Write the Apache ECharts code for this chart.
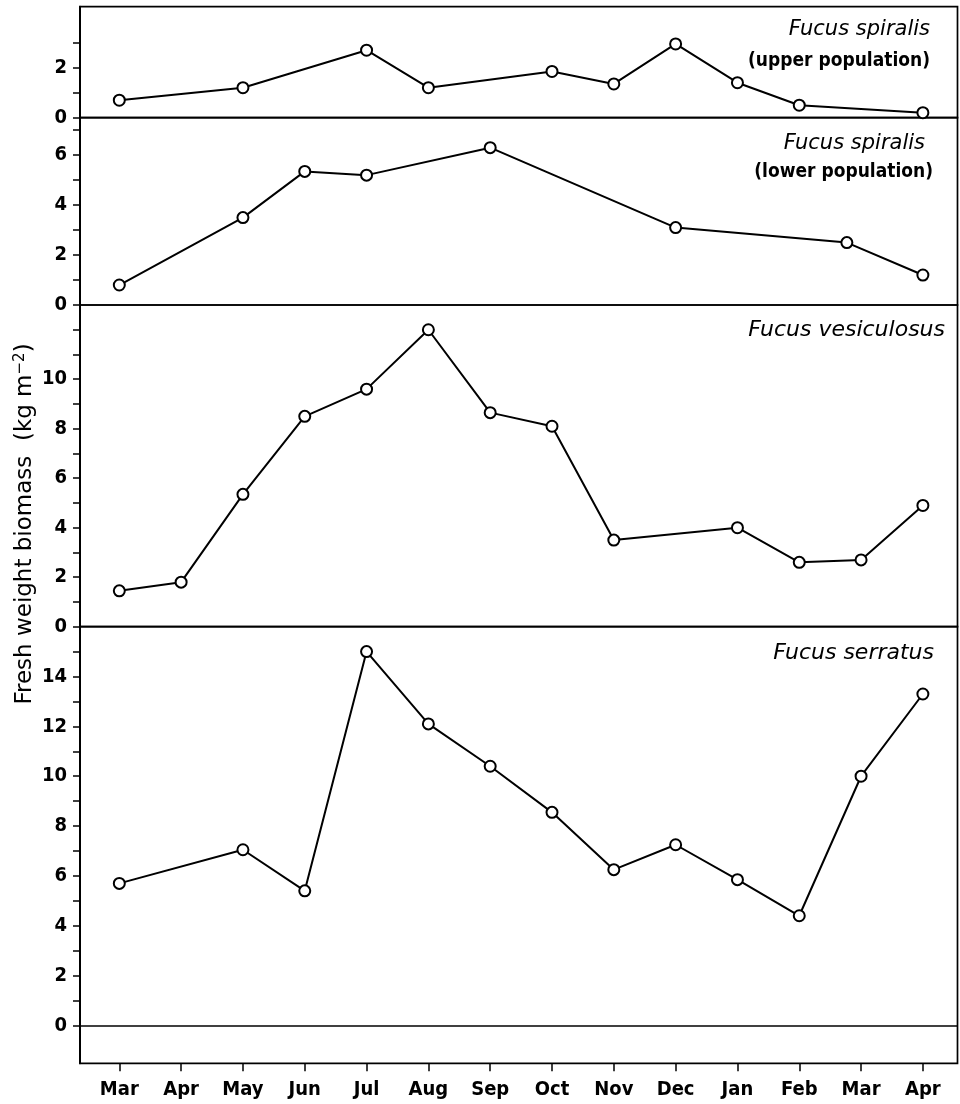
<!DOCTYPE html>
<html>
<head>
<meta charset="utf-8">
<script src="https://cdn.jsdelivr.net/npm/echarts@6/dist/echarts.min.js"></script>
<style>
html,body{margin:0;padding:0;background:#fff;}
#chart{width:960px;height:1104px;}
</style>
</head>
<body>
<div id="chart"></div>
<script>
// ---- data ----
var monthLabels = ['Mar','Apr','May','Jun','Jul','Aug','Sep','Oct','Nov','Dec','Jan','Feb','Mar','Apr'];

var upperX = [0, 2, 4, 5, 7, 8, 9, 10, 11, 13];
var upperY = [0.7, 1.2, 2.7, 1.2, 1.85, 1.35, 2.95, 1.4, 0.5, 0.2];

var lowerX = [0, 2, 3, 4, 6, 9, 11.77, 13];
var lowerY = [0.8, 3.5, 5.35, 5.2, 6.3, 3.1, 2.5, 1.2];

var vesX = [0, 1, 2, 3, 4, 5, 6, 7, 8, 10, 11, 12, 13];
var vesY = [1.45, 1.8, 5.35, 8.5, 9.6, 12.0, 8.65, 8.1, 3.5, 4.0, 2.6, 2.7, 4.9];

var serX = [0, 2, 3, 4, 5, 6, 7, 8, 9, 10, 11, 12, 13];
var serY = [5.7, 7.05, 5.4, 15.0, 12.1, 10.4, 8.55, 6.25, 7.25, 5.85, 4.4, 10.0, 13.3];

var upperTicks = [0, 1, 2, 3];
var upperLabels = [0, 2];
var lowerTicks = [0, 1, 2, 3, 4, 5, 6, 7];
var lowerLabels = [0, 2, 4, 6];
var vesTicks = [0, 1, 2, 3, 4, 5, 6, 7, 8, 9, 10, 11, 12];
var vesLabels = [0, 2, 4, 6, 8, 10];
var serTicks = [0, 1, 2, 3, 4, 5, 6, 7, 8, 9, 10, 11, 12, 13, 14, 15];
var serLabels = [0, 2, 4, 6, 8, 10, 12, 14];
var monthTicks = [0, 1, 2, 3, 4, 5, 6, 7, 8, 9, 10, 11, 12, 13];

// ---- build ----
function pairs(xs, ys) { return xs.map(function (x, i) { return [x, ys[i]]; }); }

var labelFont = '"Liberation Sans Narrow", "DejaVu Sans Condensed", sans-serif';
var italicFont = '"DejaVu Sans", sans-serif';

var panels = [
  { top: 6.7,   height: 111,   min: 0,     max: 4.44, ticks: upperTicks, labels: upperLabels, data: pairs(upperX, upperY) },
  { top: 117.7, height: 187.3, min: 0,     max: 7.5,  ticks: lowerTicks, labels: lowerLabels, data: pairs(lowerX, lowerY) },
  { top: 305,   height: 321.7, min: 0,     max: 13,   ticks: vesTicks,   labels: vesLabels,   data: pairs(vesX, vesY) },
  { top: 626.7, height: 436.6, min: -1.52, max: 16,   ticks: serTicks,   labels: serLabels,   data: pairs(serX, serY) }
];

var grids = [], xAxes = [], yAxes = [], series = [];
panels.forEach(function (p, i) {
  grids.push({
    left: 80, right: 2.5, top: p.top, height: p.height,
    show: true, borderColor: '#000', borderWidth: 1.7, backgroundColor: 'transparent'
  });
  var isBottom = (i === panels.length - 1);
  xAxes.push({
    type: 'value', gridIndex: i, min: -0.636, max: 13.56,
    position: 'bottom',
    show: isBottom,
    axisLine: { show: false, onZero: false },
    splitLine: { show: false },
    axisTick: { show: isBottom, customValues: monthTicks, length: 8, inside: false,
                lineStyle: { color: '#000', width: 1.5 } },
    axisLabel: { show: isBottom, customValues: monthTicks, margin: 16,
                 formatter: function (v) { return monthLabels[Math.round(v)]; },
                 color: '#000', fontFamily: labelFont, fontWeight: 'bold', fontSize: 20 }
  });
  yAxes.push({
    type: 'value', gridIndex: i, min: p.min, max: p.max,
    axisLine: { show: true, onZero: false, lineStyle: { color: '#000', width: 2 } },
    splitLine: { show: false },
    axisTick: { show: true, customValues: p.ticks, length: 7, inside: false,
                lineStyle: { color: '#000', width: 1.5 } },
    axisLabel: { show: true, customValues: p.labels, margin: 13,
                 color: '#000', fontFamily: labelFont, fontWeight: 'bold', fontSize: 20 }
  });
  var s = {
    type: 'line', xAxisIndex: i, yAxisIndex: i, data: p.data,
    symbol: 'circle', symbolSize: 11, showAllSymbol: true,
    lineStyle: { color: '#000', width: 2 },
    itemStyle: { color: '#fff', borderColor: '#000', borderWidth: 2 },
    emphasis: { disabled: true },
    silent: true, clip: false
  };
  if (isBottom) {
    s.markLine = {
      silent: true, symbol: 'none', label: { show: false },
      lineStyle: { color: '#000', width: 1.5, type: 'solid' },
      data: [{ yAxis: 0 }]
    };
  }
  series.push(s);
});

function label(text, x, y, italic, size) {
  return {
    type: 'text', x: x, y: y, silent: true,
    style: {
      text: text, fill: '#000',
      font: (italic ? 'italic ' : 'bold ') + size + 'px ' + (italic ? italicFont : labelFont),
      textAlign: 'right', textVerticalAlign: 'middle'
    }
  };
}

var option = {
  animation: false,
  backgroundColor: '#fff',
  grid: grids,
  xAxis: xAxes,
  yAxis: yAxes,
  series: series,
  graphic: [
    label('Fucus spiralis', 930, 30, true, 21),
    label('(upper population)', 930, 61, false, 19),
    label('Fucus spiralis', 925, 144, true, 21),
    label('(lower population)', 933, 172, false, 19),
    label('Fucus vesiculosus', 945, 330, true, 22),
    label('Fucus serratus', 934, 653, true, 22),
    {
      type: 'text', x: 25, y: 524, rotation: Math.PI / 2, silent: true,
      style: {
        text: 'Fresh weight biomass  (kg m{sup|−2})',
        fill: '#000',
        font: '23px "DejaVu Sans", sans-serif',
        textAlign: 'center', textVerticalAlign: 'middle',
        rich: {
          sup: { fontSize: 15, fontFamily: '"DejaVu Sans", sans-serif', fill: '#000', verticalAlign: 'top', padding: [0, 0, 10, 0] }
        }
      }
    }
  ]
};

var chart = echarts.init(document.getElementById('chart'), null, { renderer: 'canvas' });
chart.setOption(option);
</script>
</body>
</html>
